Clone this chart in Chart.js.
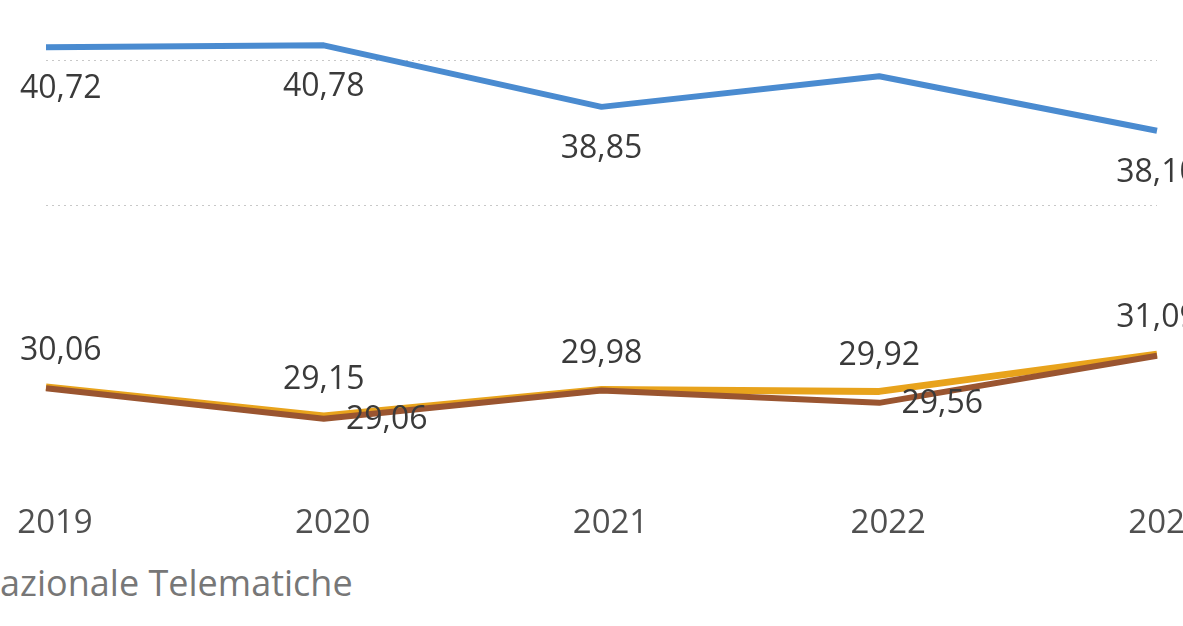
<!DOCTYPE html>
<html lang="it">
<head>
<meta charset="utf-8">
<script src="https://cdn.jsdelivr.net/npm/chart.js@4"></script>
<style>
  html, body { margin: 0; padding: 0; background: #fff; overflow: hidden; }
  body { width: 1183px; height: 626px; position: relative; }
  #wrap { position: absolute; left: 0; top: 0; width: 1240px; height: 546px; }
  #fonte {
    position: absolute; left: -27px; top: 558px;
    font-family: "Open Sans", sans-serif; font-size: 36px; color: #777;
    white-space: nowrap;
  }
</style>
</head>
<body>
<div id="wrap"><canvas id="lineChart"></canvas></div>
<div id="fonte">Nazionale Telematiche</div>
<script>
// Годы по оси X
const years = ["2019", "2020", "2021", "2022", "2023"];

// Значения трёх линий
const blueValues = [40.72, 40.78, 38.85, 39.81, 38.10];
const goldValues = [30.06, 29.15, 29.98, 29.92, 31.09];
const brownValues = [30.02, 29.06, 29.95, 29.56, 31.04];

// Какие подписи значений видны
const blueShown = [true, true, true, false, true];
const goldShown = [true, true, true, true, true];
const brownShown = [false, true, false, true, false];

// Уровни пунктирной сетки
const gridValues = [35.75, 40.3];

const fmt = (v) => v.toFixed(2).replace(".", ",");

// Подписи значений рисуем сами, через координаты точек Chart.js
const valueLabels = {
  id: "valueLabels",
  afterDatasetsDraw(chart) {
    const ctx = chart.ctx;
    ctx.save();
    ctx.font = '32px "Open Sans", sans-serif';
    ctx.fillStyle = "#3a3a3a";
    ctx.textAlign = "center";
    ctx.textBaseline = "middle";
    chart.data.datasets.forEach((ds, i) => {
      const meta = chart.getDatasetMeta(i);
      meta.data.forEach((pt, j) => {
        if (!ds.shown[j]) return;
        const text = fmt(ds.data[j]);
        const w = ctx.measureText(text).width;
        let x = pt.x + ds.labelDx;
        if (x - w / 2 < 20) x = 20 + w / 2; // не вылезаем за левый край
        ctx.fillText(text, x, pt.y + ds.labelDy);
      });
    });
    ctx.restore();
  },
};

const makeLine = (label, data, color, width, shown, dx, dy) => ({
  label: label,
  data: data,
  borderColor: color,
  backgroundColor: color,
  borderWidth: width,
  pointRadius: 0,
  tension: 0,
  borderJoinStyle: "round",
  shown: shown,
  labelDx: dx,
  labelDy: dy,
});

document.addEventListener("DOMContentLoaded", () => {
  const ctx = document.getElementById("lineChart").getContext("2d");

  new Chart(ctx, {
    type: "line",
    data: {
      labels: years,
      datasets: [
        makeLine("Blu", blueValues, "#4a8bd0", 6, blueShown, 0, 42),
        makeLine("Marrone", brownValues, "#9a5530", 6, brownShown, 63, 1),
        makeLine("Arancio", goldValues, "#e8a31c", 7, goldShown, 0, -36),
      ],
    },
    options: {
      responsive: true,
      maintainAspectRatio: false,
      animation: false,
      layout: { padding: { left: 46, right: 83, top: 10, bottom: 0 } },
      scales: {
        x: {
          offset: false,
          grid: { display: false },
          border: { display: false },
          ticks: {
            color: "#505050",
            padding: 3,
            labelOffset: 9,
            font: { family: '"Open Sans", sans-serif', size: 33 },
            maxRotation: 0,
            autoSkip: false,
          },
        },
        y: {
          min: 26.75,
          max: 41.89,
          grid: {
            color: "#c8c8c8",
            lineWidth: 1,
            drawTicks: false,
          },
          border: { display: false, dash: [2, 4] },
          ticks: { display: false },
          afterBuildTicks: (scale) => {
            scale.ticks = gridValues.map((v) => ({ value: v }));
          },
        },
      },
      plugins: {
        legend: { display: false },
        tooltip: { enabled: false },
      },
    },
    plugins: [valueLabels],
  });
});
</script>
</body>
</html>
